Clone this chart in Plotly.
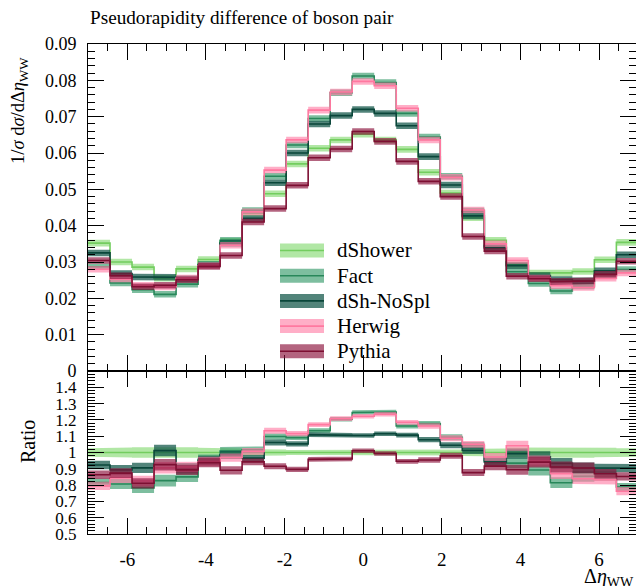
import numpy as np
import plotly.graph_objects as go
from plotly.subplots import make_subplots

# Binning of the pseudorapidity difference
x_lo, x_hi = -7.0, 7.0
n_bins = 25
edges = np.linspace(x_lo, x_hi, n_bins + 1)

# Normalised distributions 1/sigma dsigma/dDeta (per bin)
dshower = [0.0352, 0.0300, 0.0286, 0.0255, 0.0281, 0.0307, 0.0357, 0.0435, 0.0488,
           0.0570, 0.0613, 0.0636, 0.0652, 0.0636, 0.0610, 0.0547, 0.0490, 0.0422,
           0.0360, 0.0292, 0.0270, 0.0270, 0.0274, 0.0306, 0.0354]
fact = [0.0287, 0.0242, 0.0224, 0.0211, 0.0239, 0.0294, 0.0360, 0.0442, 0.0536,
        0.0622, 0.0695, 0.0766, 0.0812, 0.0794, 0.0709, 0.0644, 0.0536, 0.0440,
        0.0342, 0.0273, 0.0241, 0.0220, 0.0234, 0.0262, 0.0279]
dsh_nospl = [0.0325, 0.0268, 0.0259, 0.0258, 0.0254, 0.0292, 0.0352, 0.0420, 0.0518,
             0.0600, 0.0680, 0.0703, 0.0720, 0.0709, 0.0675, 0.0590, 0.0512, 0.0427,
             0.0339, 0.0290, 0.0263, 0.0252, 0.0248, 0.0276, 0.0320]
herwig = [0.0280, 0.0253, 0.0236, 0.0231, 0.0256, 0.0290, 0.0346, 0.0438, 0.0553,
          0.0636, 0.0718, 0.0768, 0.0797, 0.0785, 0.0723, 0.0636, 0.0533, 0.0443,
          0.0350, 0.0304, 0.0256, 0.0235, 0.0230, 0.0255, 0.0270]
pythia = [0.0304, 0.0262, 0.0232, 0.0236, 0.0251, 0.0288, 0.0318, 0.0410, 0.0447,
          0.0511, 0.0587, 0.0611, 0.0659, 0.0632, 0.0577, 0.0522, 0.0480, 0.0370,
          0.0330, 0.0261, 0.0254, 0.0246, 0.0248, 0.0266, 0.0302]

# Statistical uncertainty per bin (absolute)
stat_err = 0.0009

series = [
    ("dShower", dshower, "rgba(125,215,105,0.60)", "rgb(115,205,95)"),
    ("Fact", fact, "rgba(45,150,100,0.62)", "rgb(40,135,90)"),
    ("dSh-NoSpl", dsh_nospl, "rgba(15,85,70,0.72)", "rgb(10,70,58)"),
    ("Herwig", herwig, "rgba(255,125,165,0.62)", "rgb(255,120,160)"),
    ("Pythia", pythia, "rgba(140,20,60,0.66)", "rgb(125,15,50)"),
]

x_major = [-6, -4, -2, 0, 2, 4, 6]
x_major_text = ["-6", "-4", "-2", "0", "2", "4", "6"]
y_top_ticks = [0, 0.01, 0.02, 0.03, 0.04, 0.05, 0.06, 0.07, 0.08, 0.09]
y_top_text = ["0", "0.01", "0.02", "0.03", "0.04", "0.05", "0.06", "0.07", "0.08", "0.09"]
y_ratio_ticks = [0.5, 0.6, 0.7, 0.8, 0.9, 1.0, 1.1, 1.2, 1.3, 1.4]
y_ratio_text = ["0.5", "0.6", "0.7", "0.8", "0.9", "1", "1.1", "1.2", "1.3", "1.4"]

FONT = "Liberation Serif"
W, H = 636, 586
ML, MR, MT, MB = 88, 0, 44, 52
plot_w = W - ML - MR
plot_h = H - MT - MB
ratio_frac = 163.0 / plot_h


def step(vals):
    xs = np.repeat(edges, 2)[1:-1]
    ys = np.repeat(np.asarray(vals, dtype=float), 2)
    return xs, ys


def px_x(px):
    return (px - ML) / plot_w


def px_y(py):
    return (H - MB - py) / plot_h


def font(size):
    return dict(family=FONT, size=size, color="black")


fig = make_subplots(rows=2, cols=1, shared_xaxes=True, vertical_spacing=0,
                    row_heights=[1 - ratio_frac, ratio_frac])

ref = np.asarray(dshower, dtype=float)
for name, vals, band, line in series:
    v = np.asarray(vals, dtype=float)
    xs, ys = step(v)
    _, up = step(v + stat_err)
    _, dn = step(v - stat_err)
    fig.add_trace(go.Scatter(x=np.concatenate([xs, xs[::-1]]), y=np.concatenate([up, dn[::-1]]),
                             fill="toself", fillcolor=band, line=dict(width=0),
                             mode="lines", hoverinfo="skip", showlegend=False), row=1, col=1)
    fig.add_trace(go.Scatter(x=xs, y=ys, mode="lines", line=dict(color=line, width=1.6),
                             name=name, showlegend=False), row=1, col=1)

    _, r = step(v / ref)
    _, rup = step((v + stat_err) / ref)
    _, rdn = step((v - stat_err) / ref)
    fig.add_trace(go.Scatter(x=np.concatenate([xs, xs[::-1]]), y=np.concatenate([rup, rdn[::-1]]),
                             fill="toself", fillcolor=band, line=dict(width=0),
                             mode="lines", hoverinfo="skip", showlegend=False), row=2, col=1)
    fig.add_trace(go.Scatter(x=xs, y=r, mode="lines", line=dict(color=line, width=1.6),
                             name=name, showlegend=False), row=2, col=1)

axis_common = dict(showline=True, linecolor="black", linewidth=1, mirror="allticks",
                   ticks="inside", tickcolor="black", tickwidth=1, ticklen=16,
                   showgrid=False, zeroline=False, tickfont=font(18))

x_minor = dict(tickmode="linear", tick0=-7, dtick=0.5, ticks="inside", ticklen=7,
               tickcolor="black", showgrid=False)
fig.update_xaxes(range=[-7, 6.939], tickmode="array", tickvals=x_major, ticktext=x_major_text,
                 minor=x_minor, **axis_common)
fig.update_xaxes(showticklabels=False, row=1, col=1)
fig.update_xaxes(showticklabels=True, ticklabelstandoff=8, tickfont=font(19), row=2, col=1)

fig.update_yaxes(range=[0, 0.09], tickmode="array", tickvals=y_top_ticks, ticktext=y_top_text,
                 minor=dict(tickmode="linear", tick0=0, dtick=0.002, ticks="inside", ticklen=7,
                            tickcolor="black", showgrid=False),
                 ticklabelstandoff=7, row=1, col=1, **axis_common)
fig.update_yaxes(range=[0.5, 1.5], tickmode="array", tickvals=y_ratio_ticks, ticktext=y_ratio_text,
                 minor=dict(tickmode="linear", tick0=0.5, dtick=0.02, ticks="inside", ticklen=7,
                            tickcolor="black", showgrid=False),
                 ticklabelstandoff=7, row=2, col=1, **axis_common)
fig.update_yaxes(tickfont=font(17), row=2, col=1)

annotations = [
    go.layout.Annotation(text="Pseudorapidity difference of boson pair", x=px_x(88), y=px_y(17),
                         xanchor="left", yanchor="middle", font=font(19.2)),
    go.layout.Annotation(text="1/<i>σ</i> d<i>σ</i>/dΔ<i>η</i><sub>WW</sub>", x=px_x(20),
                         y=px_y(111), xanchor="center", yanchor="middle", textangle=-90,
                         font=font(18.5)),
    go.layout.Annotation(text="Ratio", x=px_x(28), y=px_y(442), xanchor="center",
                         yanchor="middle", textangle=-90, font=font(20)),
    go.layout.Annotation(text="Δ<i>η</i><sub>WW</sub>", x=px_x(636), y=px_y(577),
                         xanchor="right", yanchor="middle", font=font(20)),
]

# Legend drawn as swatches with a centre line and labels
shapes = []
for i, (name, _, band, line) in enumerate(series):
    cy = 250.5 + 25.2 * i
    shapes.append(dict(type="rect", xref="paper", yref="paper",
                       x0=px_x(280), x1=px_x(324), y0=px_y(cy + 7), y1=px_y(cy - 7),
                       fillcolor=band, line=dict(width=0)))
    shapes.append(dict(type="line", xref="paper", yref="paper",
                       x0=px_x(280), x1=px_x(324), y0=px_y(cy), y1=px_y(cy),
                       line=dict(color=line, width=1.6)))
    annotations.append(go.layout.Annotation(text=name, x=px_x(335), y=px_y(cy), xanchor="left",
                                            yanchor="middle", font=font(21)))

for a in annotations:
    a.update(xref="paper", yref="paper", showarrow=False)

fig.update_layout(width=W, height=H, margin=dict(l=ML, r=MR, t=MT, b=MB),
                  paper_bgcolor="white", plot_bgcolor="white",
                  showlegend=False, annotations=annotations, shapes=shapes,
                  font=font(18))

fig.write_html("out.html")
